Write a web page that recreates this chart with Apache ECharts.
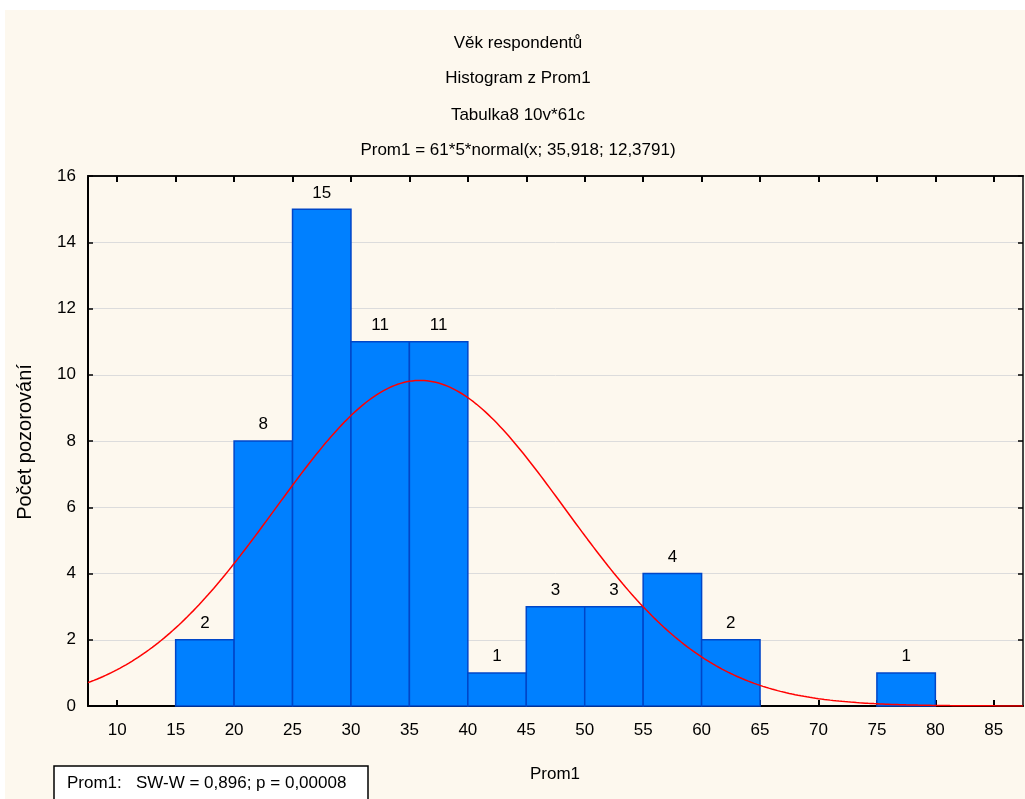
<!DOCTYPE html>
<html>
<head>
<meta charset="utf-8">
<script src="https://cdn.jsdelivr.net/npm/echarts@6/dist/echarts.min.js"></script>
<style>
  html, body { margin: 0; padding: 0; background: #ffffff; }
  #chart { width: 1025px; height: 799px; }
</style>
</head>
<body>
<div id="chart"></div>
<script>
// Histogram bins (lower edge, upper edge) and counts of respondents' age
const binStart = [15, 20, 25, 30, 35, 40, 45, 50, 55, 60, 65, 70, 75];
const binEnd   = [20, 25, 30, 35, 40, 45, 50, 55, 60, 65, 70, 75, 80];
const counts   = [2, 8, 15, 11, 11, 1, 3, 3, 4, 2, 0, 0, 1];

// Tick labels
const xTicks = [10, 15, 20, 25, 30, 35, 40, 45, 50, 55, 60, 65, 70, 75, 80, 85];
const yTicks = [0, 2, 4, 6, 8, 10, 12, 14, 16];

// Fitted normal curve as stated in the title: Prom1 = 61*5*normal(x; 35,918; 12,3791)
const nObs = 61;
const binWidth = 5;
const fitMean = 35.918;
const fitSd = 12.3791;

const titleLines = [
  'Věk respondentů',
  'Histogram z Prom1',
  'Tabulka8 10v*61c',
  'Prom1 = 61*5*normal(x; 35,918; 12,3791)'
];

const FONT = '"Liberation Sans", Arial, sans-serif';
const X_MIN = 7.5, X_MAX = 87.5;

function normalCurve() {
  const pts = [];
  const k = nObs * binWidth / (fitSd * Math.sqrt(2 * Math.PI));
  for (let x = X_MIN; x <= X_MAX + 1e-9; x += 0.25) {
    const z = (x - fitMean) / fitSd;
    pts.push([x, k * Math.exp(-0.5 * z * z)]);
  }
  return pts;
}

const barData = binStart.map((s, i) => [s, binEnd[i], counts[i]]);

const chart = echarts.init(document.getElementById('chart'), null, { renderer: 'canvas' });

const titleY = [43, 78, 115, 150];

chart.setOption({
  backgroundColor: '#ffffff',
  animation: false,
  textStyle: { fontFamily: FONT },
  grid: { left: 88, top: 176, right: 2, bottom: 93, containLabel: false },
  graphic: [
    { type: 'rect', z: -10, silent: true, shape: { x: 5, y: 10, width: 1020, height: 789 }, style: { fill: '#fdf8ee' } },
    ...titleLines.map((t, i) => ({
      type: 'text', x: 518, y: titleY[i],
      style: { text: t, font: '17px ' + FONT, fill: '#000', textAlign: 'center', textVerticalAlign: 'middle' }
    })),
    { type: 'text', x: 25, y: 442, rotation: Math.PI / 2,
      style: { text: 'Počet pozorování', font: '20px ' + FONT, fill: '#000', textAlign: 'center', textVerticalAlign: 'middle' } },
    { type: 'text', x: 555, y: 774,
      style: { text: 'Prom1', font: '17px ' + FONT, fill: '#000', textAlign: 'center', textVerticalAlign: 'middle' } },
    { type: 'rect', shape: { x: 54, y: 766, width: 314, height: 40 },
      style: { fill: '#ffffff', stroke: '#000', lineWidth: 1.5 } },
    { type: 'text', x: 67, y: 783,
      style: { text: 'Prom1:   SW-W = 0,896; p = 0,00008', font: '17px ' + FONT, fill: '#000', textAlign: 'left', textVerticalAlign: 'middle' } }
  ],
  xAxis: [
    {
      type: 'value', min: X_MIN, max: X_MAX, position: 'bottom',
      axisLine: { show: true, onZero: false, lineStyle: { color: '#000', width: 2 } },
      axisTick: { show: true, inside: true, length: 6, customValues: xTicks, lineStyle: { color: '#000', width: 2 } },
      axisLabel: { show: true, customValues: xTicks, margin: 16, fontSize: 17, color: '#000', fontFamily: FONT },
      splitLine: { show: false }
    },
    {
      type: 'value', min: X_MIN, max: X_MAX, position: 'top',
      axisLine: { show: true, onZero: false, lineStyle: { color: '#111', width: 2 } },
      axisTick: { show: true, inside: true, length: 6, customValues: xTicks, lineStyle: { color: '#000', width: 2 } },
      axisLabel: { show: false },
      splitLine: { show: false }
    }
  ],
  yAxis: [
    {
      type: 'value', min: 0, max: 16, interval: 2, position: 'left',
      axisLine: { show: true, onZero: false, lineStyle: { color: '#000', width: 2 } },
      axisTick: { show: true, inside: true, length: 5, lineStyle: { color: '#000', width: 1.5 } },
      axisLabel: { show: true, margin: 12, fontSize: 17, color: '#000', fontFamily: FONT,
        formatter: v => (yTicks.indexOf(v) >= 0 ? String(v) : '') },
      splitLine: { show: true, lineStyle: { color: '#dcdcdc', width: 1 } }
    },
    {
      type: 'value', min: 0, max: 16, interval: 2, position: 'right',
      axisLine: { show: true, onZero: false, lineStyle: { color: '#444', width: 2 } },
      axisTick: { show: true, inside: true, length: 5, lineStyle: { color: '#000', width: 1.5 } },
      axisLabel: { show: false },
      splitLine: { show: false }
    }
  ],
  series: [
    {
      type: 'custom',
      xAxisIndex: 0, yAxisIndex: 0,
      data: barData,
      encode: { x: [0, 1], y: 2 },
      z: 2,
      renderItem: function (params, api) {
        const v = api.value(2);
        if (!v) return null;
        const p0 = api.coord([api.value(0), v]);
        const p1 = api.coord([api.value(1), 0]);
        return {
          type: 'rect',
          shape: { x: p0[0], y: p0[1], width: p1[0] - p0[0], height: p1[1] - p0[1] },
          style: { fill: '#0080ff', stroke: '#0046c8', lineWidth: 1.5 },
          textContent: { style: { text: String(v), font: '17px ' + FONT, fill: '#000' } },
          textConfig: { position: 'top', distance: 7 }
        };
      }
    },
    {
      type: 'line',
      xAxisIndex: 0, yAxisIndex: 0,
      data: normalCurve(),
      showSymbol: false,
      smooth: false,
      clip: true,
      z: 3,
      lineStyle: { color: '#ff0000', width: 1.5 }
    }
  ]
});
</script>
</body>
</html>
